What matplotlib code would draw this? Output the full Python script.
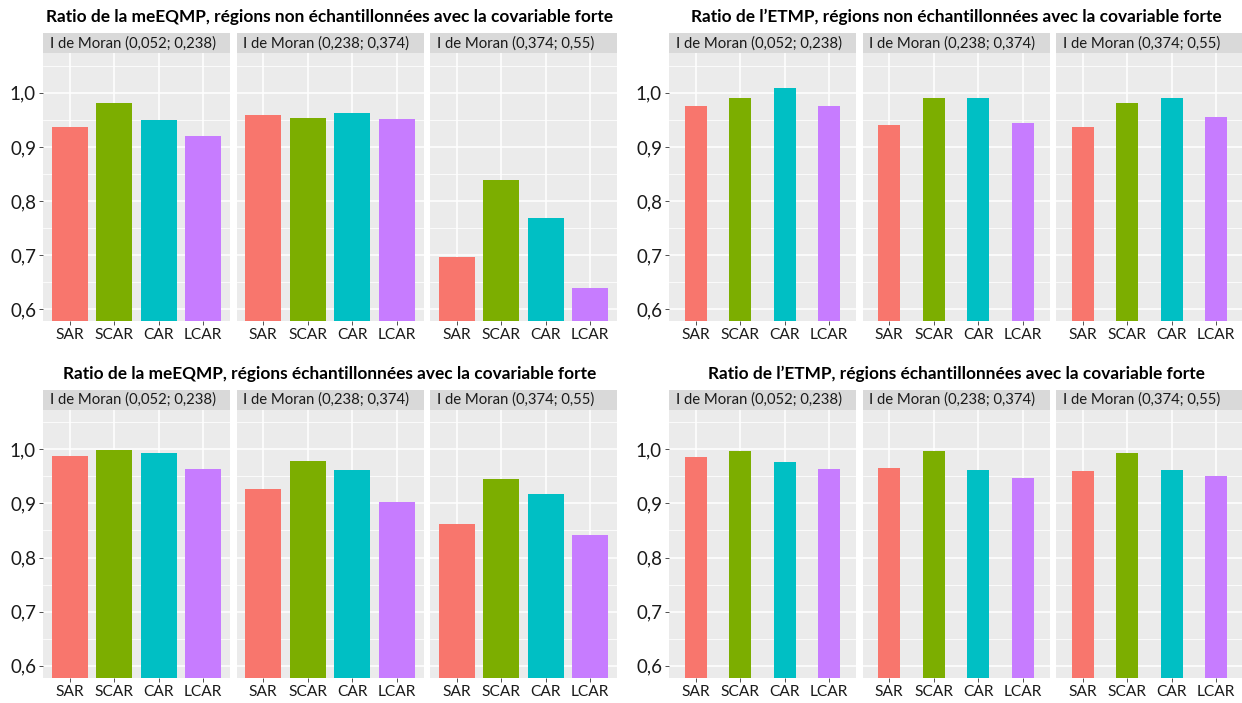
import matplotlib
matplotlib.use('Agg')
import matplotlib.pyplot as plt
import numpy as np

plt.rcParams['font.family'] = ['Lato', 'DejaVu Sans']

# ── Data ──────────────────────────────────────────────────────────────────────
models = ['SAR', 'SCAR', 'CAR', 'LCAR']
moran_bins = ['I de Moran (0,052; 0,238)', 'I de Moran (0,238; 0,374)', 'I de Moran (0,374; 0,55)']

title_meeqmp_non = 'Ratio de la meEQMP, régions non échantillonnées avec la covariable forte'
title_etmp_non = 'Ratio de l\u2019ETMP, régions non échantillonnées avec la covariable forte'
title_meeqmp_ech = 'Ratio de la meEQMP, régions échantillonnées avec la covariable forte'
title_etmp_ech = 'Ratio de l\u2019ETMP, régions échantillonnées avec la covariable forte'

# one row per Moran bin, columns follow `models`
meeqmp_non = [[0.936, 0.981, 0.949, 0.921],
              [0.958, 0.954, 0.962, 0.952],
              [0.696, 0.839, 0.768, 0.640]]
etmp_non = [[0.975, 0.991, 1.009, 0.976],
            [0.941, 0.991, 0.990, 0.945],
            [0.936, 0.981, 0.991, 0.956]]
meeqmp_ech = [[0.987, 0.999, 0.994, 0.964],
              [0.927, 0.978, 0.961, 0.903],
              [0.862, 0.945, 0.918, 0.841]]
etmp_ech = [[0.985, 0.996, 0.976, 0.964],
            [0.966, 0.997, 0.962, 0.946],
            [0.959, 0.993, 0.961, 0.951]]

colors = ['#F8766D', '#7CAE00', '#00BFC4', '#C77CFF']
y_ticks = [0.6, 0.7, 0.8, 0.9, 1.0]
y_labels = ['0,6', '0,7', '0,8', '0,9', '1,0']

# ── Layout (pixels) ───────────────────────────────────────────────────────────
W, H = 1242, 703
fig = plt.figure(figsize=(W / 100, H / 100), dpi=100)
fig.patch.set_facecolor('white')

facet_w, facet_gap = 187, 6.5
strip_h = 20.5


def px_rect(x0, y0, w, h):
    return [x0 / W, 1 - (y0 + h) / H, w / W, h / H]


def draw_block(left, top, title, values, bar_width):
    # top = y of strip top, panel below strip
    panel_top = top + strip_h
    panel_h = 268
    fig.text((left + (3 * facet_w + 2 * facet_gap) / 2) / W, 1 - (top - 16) / H, title,
             ha='center', va='center', fontsize=12.4, fontweight='bold', color='black')
    for i, (lab, vals) in enumerate(zip(moran_bins, values)):
        x0 = left + i * (facet_w + facet_gap)
        # strip
        sax = fig.add_axes(px_rect(x0, top, facet_w, strip_h))
        sax.set_facecolor('#D9D9D9')
        sax.set_xticks([]); sax.set_yticks([])
        for s in sax.spines.values():
            s.set_visible(False)
        sax.text(0.037, 0.5, lab, transform=sax.transAxes, ha='left', va='center',
                 fontsize=10.7, color='#1A1A1A')
        # panel
        ax = fig.add_axes(px_rect(x0, panel_top, facet_w, panel_h))
        ax.set_facecolor('#EBEBEB')
        xs = np.arange(len(models))
        ax.bar(xs, vals, width=bar_width, color=colors, zorder=3)
        ax.set_xlim(-0.6, 3.6)
        ax.set_ylim(0.5775, 1.0725)
        ax.set_yticks(y_ticks)
        ax.set_yticks([0.65, 0.75, 0.85, 0.95, 1.05], minor=True)
        ax.set_xticks(xs)
        ax.set_xticklabels(models, fontsize=11.2, color='#1A1A1A')
        ax.grid(True, which='major', color='white', linewidth=1.1, zorder=0)
        ax.grid(True, which='minor', axis='y', color='white', linewidth=0.55, zorder=0)
        ax.tick_params(axis='both', which='major', length=3, width=0.6, color='#333333', pad=2)
        ax.tick_params(axis='y', which='minor', length=0)
        if i == 0:
            ax.set_yticklabels(y_labels, fontsize=13.5, color='#1A1A1A')
        else:
            ax.tick_params(axis='y', which='major', labelleft=False, length=0)
        for s in ax.spines.values():
            s.set_visible(False)


draw_block(43, 33, title_meeqmp_non, meeqmp_non, 0.8)
draw_block(669, 33, title_etmp_non, etmp_non, 0.5)
draw_block(43, 389.5, title_meeqmp_ech, meeqmp_ech, 0.8)
draw_block(669, 389.5, title_etmp_ech, etmp_ech, 0.5)

fig.savefig('out.png', dpi=100, facecolor=fig.get_facecolor())
